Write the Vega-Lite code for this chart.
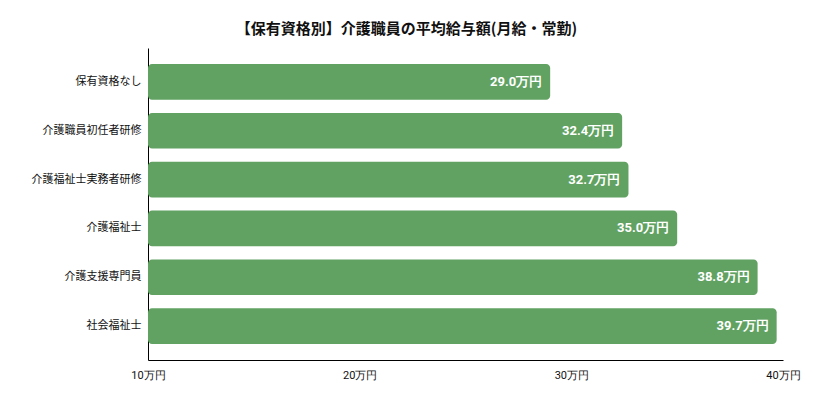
{
  "$schema": "https://vega.github.io/schema/vega-lite/v6.json",
  "autosize": "none",
  "width": 635,
  "height": 312,
  "padding": {"left": 148, "top": 48, "right": 30, "bottom": 50},
  "background": "white",
  "title": {
    "text": "【保有資格別】介護職員の平均給与額(月給・常勤)",
    "font": "Noto Sans CJK JP",
    "fontSize": 15,
    "fontWeight": "bold",
    "color": "#111111",
    "anchor": "middle",
    "dx": -59,
    "offset": 11
  },
  "config": {
    "view": {"stroke": null},
    "font": "Noto Sans CJK JP"
  },
  "data": {
    "values": [
      {"qualification": "保有資格なし", "salary": 29.0},
      {"qualification": "介護職員初任者研修", "salary": 32.4},
      {"qualification": "介護福祉士実務者研修", "salary": 32.7},
      {"qualification": "介護福祉士", "salary": 35.0},
      {"qualification": "介護支援専門員", "salary": 38.8},
      {"qualification": "社会福祉士", "salary": 39.7}
    ]
  },
  "transform": [
    {"calculate": "format(datum.salary, '.1f') + '万円'", "as": "label"}
  ],
  "encoding": {
    "y": {
      "field": "qualification",
      "type": "nominal",
      "sort": null,
      "title": null,
      "scale": {"paddingInner": 0.27, "paddingOuter": 0.33},
      "axis": {
        "domainColor": "#000000",
        "ticks": false,
        "labelPadding": 7,
        "labelFontSize": 11,
        "labelColor": "#111111",
        "labelFont": "Noto Sans CJK JP"
      }
    },
    "x": {
      "field": "salary",
      "type": "quantitative",
      "title": null,
      "scale": {"domain": [10, 40], "zero": false, "nice": false},
      "axis": {
        "values": [10, 20, 30, 40],
        "labelExpr": "datum.value + '万円'",
        "grid": false,
        "ticks": false,
        "domainColor": "#000000",
        "labelPadding": 9,
        "labelFontSize": 11,
        "labelColor": "#111111",
        "labelFont": "Roboto",
        "labelFlush": false
      }
    }
  },
  "layer": [
    {
      "mark": {"type": "bar", "color": "#61a262", "cornerRadius": 4},
      "encoding": {
        "x2": {"datum": 10}
      }
    },
    {
      "mark": {
        "type": "text",
        "align": "right",
        "dx": -8,
        "color": "white",
        "fontSize": 13,
        "fontWeight": "bold",
        "font": "Roboto"
      },
      "encoding": {
        "text": {"field": "label", "type": "nominal"}
      }
    }
  ]
}
